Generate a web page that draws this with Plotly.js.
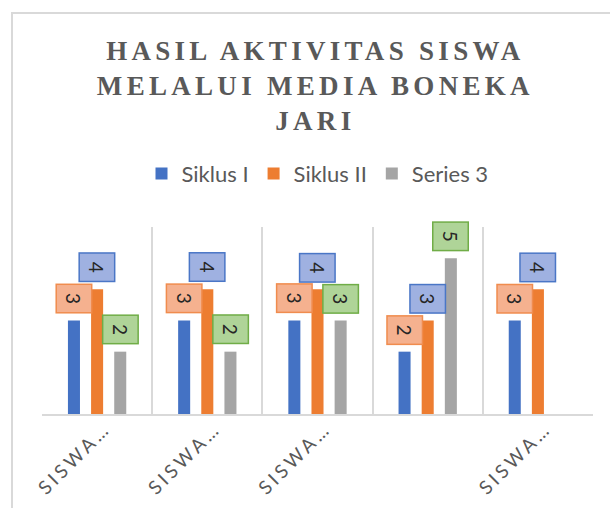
<!DOCTYPE html>
<html>
<head>
<meta charset="utf-8">
<script src="https://cdn.plot.ly/plotly-3.0.1.min.js"></script>
<style>
  html, body { margin: 0; padding: 0; background: #ffffff; overflow: hidden; }
  #frame { position: absolute; left: 11px; top: 12px; width: 700px; height: 600px;
           border-left: 2px solid #d9d9d9; border-top: 2px solid #d9d9d9; }
  #chart { position: absolute; left: 0; top: 0; width: 610px; height: 508px; }
  #chart .gtitle { letter-spacing: 4.3px; }
  #chart .xtick text { letter-spacing: 3.5px; }
</style>
</head>
<body>
<div id="frame"></div>
<div id="chart"></div>
<script>
// ---- data ----
var categories = ["Siswa 1", "Siswa 2", "Siswa 3", "Siswa 4", "Siswa 5"];
var tickLabels = ["SISWA…", "SISWA…", "SISWA…", "", "SISWA…"];
var seriesNames = ["Siklus I", "Siklus II", "Series 3"];
var siklus1 = [3, 3, 3, 2, 3];
var siklus2 = [4, 4, 4, 3, 4];
var series3 = [2, 2, 3, 5, null];
var titleText = "HASIL AKTIVITAS SISWA<br>MELALUI MEDIA BONEKA<br>JARI";

// ---- styles ----
var barColors = ["#4472c4", "#ed7d31", "#a5a5a5"];
var labelFill = ["#f5b18f", "#9fb1e1", "#afd498"];
var labelLine = ["#f08c4e", "#4a76c6", "#70ad47"];
var allSeries = [siklus1, siklus2, series3];

var traces = allSeries.map(function (vals, s) {
  return {
    type: "bar",
    name: seriesNames[s],
    x: categories,
    y: vals,
    marker: { color: barColors[s] },
    hoverinfo: "x+y+name"
  };
});

var bargap = 0.37, bargroupgap = 0.48;
var slot = (1 - bargap) / 3;
var annotations = [];
allSeries.forEach(function (vals, s) {
  vals.forEach(function (v, i) {
    if (v === null || v === undefined) return;
    annotations.push({
      xref: "x", yref: "y",
      x: i + (s - 1) * slot,
      y: v,
      text: String(v),
      showarrow: false,
      xanchor: "center", yanchor: "bottom",
      yshift: 7,
      textangle: 90,
      width: 27, height: 34,
      bgcolor: labelFill[s],
      bordercolor: labelLine[s],
      borderwidth: 1.5,
      borderpad: 0,
      font: { family: "Lato, 'Liberation Sans', sans-serif", size: 19, color: "#262626" }
    });
  });
});

var layout = {
  width: 610, height: 508,
  margin: { l: 42, r: 17, t: 227, b: 94, pad: 0 },
  paper_bgcolor: "rgba(0,0,0,0)",
  plot_bgcolor: "rgba(0,0,0,0)",
  barmode: "group",
  bargap: bargap,
  bargroupgap: bargroupgap,
  title: {
    text: titleText,
    font: { family: "'Liberation Serif', 'Times New Roman', serif", size: 27, weight: "bold", color: "#595959" },
    x: 0.517, xanchor: "center",
    y: 1 - 60 / 508, yanchor: "top"
  },
  showlegend: true,
  legend: {
    orientation: "h",
    x: 0.5, xanchor: "center",
    y: 1.285, yanchor: "middle",
    font: { family: "Lato, 'Liberation Sans', sans-serif", size: 22, color: "#595959" },
    bgcolor: "rgba(0,0,0,0)"
  },
  xaxis: {
    type: "category",
    tickvals: categories,
    ticktext: tickLabels,
    tickson: "boundaries",
    showgrid: true,
    gridcolor: "#d9d9d9",
    gridwidth: 1.5,
    showline: true,
    linecolor: "#d9d9d9",
    linewidth: 2,
    ticks: "",
    tickangle: -45,
    ticklabelstandoff: -6,
    ticklabelshift: 8,
    tickfont: { family: "Lato, 'Liberation Sans', sans-serif", size: 19, color: "#595959" },
    fixedrange: true
  },
  yaxis: {
    range: [0, 6],
    showgrid: false,
    zeroline: false,
    showticklabels: false,
    showline: false,
    ticks: "",
    fixedrange: true
  },
  annotations: annotations
};

Plotly.newPlot("chart", traces, layout, { displayModeBar: false, responsive: false });
</script>
</body>
</html>
